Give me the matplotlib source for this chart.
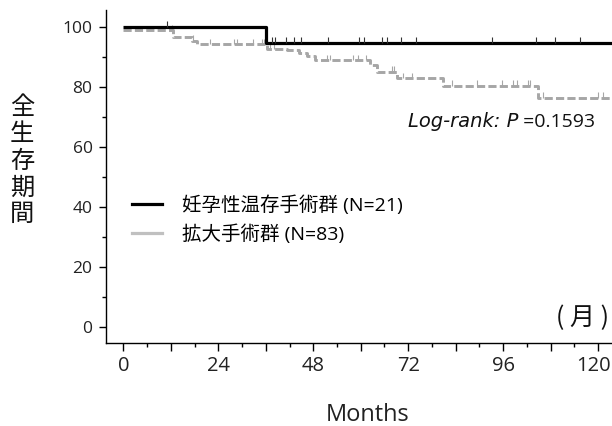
import numpy as np
import matplotlib
matplotlib.use("Agg")
import matplotlib.pyplot as plt
from matplotlib.lines import Line2D
from matplotlib.ticker import MultipleLocator, FuncFormatter

# ========================
# ДАННЫЕ
# ========================
# Кривая 1: 妊孕性温存手術群 (N=21)
t_fs = [0, 36.0]
s_fs = [100, 94.7]
cens_fs = [11.1, 37.5, 38.3, 41.0, 43.2, 44.9, 51.8, 59.6, 60.9, 65.3,
           66.7, 70.3, 73.9, 93.1, 104.3, 109.1, 115.4]

# Кривая 2: 拡大手術群 (N=83)
t_rad = [0, 12.6, 17.3, 18.7, 36.2, 41.3, 44.5, 46.3, 48.4, 62.3, 64.0,
         69.2, 80.7, 104.9]
s_rad = [98.8, 96.7, 95.3, 94.2, 92.5, 92.1, 91.1, 90.3, 88.9, 87.2, 85.0,
         82.8, 80.3, 76.3]
cens_rad = [12.2, 17.6, 21.9, 28.0, 28.7, 32.7, 35.0, 35.5, 37.0, 38.1,
            51.5, 52.2, 58.1, 59.4, 61.3, 67.8, 68.4, 70.6, 72.9, 83.0,
            89.3, 95.6, 98.5, 99.4, 102.3, 102.9, 106.1, 120.0, 121.3]

labels = ["妊孕性温存手術群 (N=21)", "拡大手術群 (N=83)"]
x_ticks = [0, 12, 24, 36, 48, 60, 72, 84, 96, 108, 120]
y_ticks = [0, 20, 40, 60, 80, 100]
t_end = 126

# ========================
# НАСТРОЙКИ
# ========================
FONTS = ['Open Sans', 'Noto Sans CJK JP', 'DejaVu Sans']
plt.rcParams['font.family'] = FONTS
W, H = 612, 426
X_TICK_SIZE = 14.5

fig = plt.figure(figsize=(W / 100, H / 100), dpi=100)
ax = fig.add_axes([105.7 / W, 1 - 343 / H, 1 - 105.7 / W, (343 - 10) / H])


def surv_at(times, surv, t):
    idx = np.searchsorted(np.array(times), np.array(t), side='right') - 1
    return np.array(surv)[idx]


# чёрная кривая
ax.step(t_fs + [t_end], s_fs + [s_fs[-1]], where='post', color='black',
        lw=2.3, solid_capstyle='butt', zorder=4)
y_c = surv_at(t_fs, s_fs, cens_fs)
ax.vlines(cens_fs, y_c, y_c + 2.0, color='#333333', lw=0.8, zorder=4)

# серая пунктирная кривая
ax.step(t_rad + [t_end], s_rad + [s_rad[-1]], where='post', color='#a6a6a6',
        lw=2.1, dashes=[2.8, 1.1], zorder=3)
y_c = surv_at(t_rad, s_rad, cens_rad)
ax.vlines(cens_rad, y_c, y_c + 1.8, color='#a6a6a6', lw=0.8, zorder=3)

# ========================
# ОСИ
# ========================
ax.set_xlim(-4.45, 123.5)
ax.set_ylim(-5.43, 105.57)
for s in ['top', 'right']:
    ax.spines[s].set_visible(False)
for s in ['left', 'bottom']:
    ax.spines[s].set_linewidth(1.0)

last_x = x_ticks[-1]
ax.set_xticks(x_ticks)
# подпись последнего деления рисуется отдельно (чуть левее, чтобы не обрезалась)
ax.xaxis.set_major_formatter(FuncFormatter(
    lambda v, p: f"{int(v)}" if int(v) % 24 == 0 and v != last_x else ""))
ax.xaxis.set_minor_locator(MultipleLocator(6))
ax.set_yticks(y_ticks)
ax.yaxis.set_minor_locator(MultipleLocator(10))

ax.tick_params(axis='x', which='major', length=5.5, width=1, labelsize=X_TICK_SIZE,
               pad=4, labelcolor='#222222')
ax.tick_params(axis='x', which='minor', length=3, width=1)
ax.tick_params(axis='y', which='major', length=5, width=1, labelsize=12.5,
               pad=4.5, labelcolor='#222222')
ax.tick_params(axis='y', which='minor', length=3, width=1)

ax.annotate(f"{last_x}", xy=(last_x, 0), xycoords=('data', 'axes fraction'),
            xytext=(-3.5, -9.5), textcoords='offset points', ha='center',
            va='top', fontsize=X_TICK_SIZE, color='#222222')

# ========================
# ТЕКСТЫ
# ========================
fig.text(368 / W, 1 - 415 / H, "Months", ha='center', va='center', fontsize=17,
         color='#222222')
fig.text(556 / W, 1 - 318 / H, "( 月 )", ha='left', va='center', fontsize=18,
         family=['Noto Sans CJK JP'], color='#111111')

for i, ch in enumerate("全生存期間"):
    fig.text(22 / W, 1 - (107.5 + 26.6 * i) / H, ch, ha='center', va='center',
             fontsize=17.5, family=['Noto Sans CJK JP'], color='#111111')

# Log-rank: P =0.1593
t2 = ax.text(119.2, 66.7, " =0.1593", ha='right', va='baseline', fontsize=14,
             color='#111111')
fig.canvas.draw()
bb = t2.get_window_extent()
x_left = ax.transData.inverted().transform((bb.x0, bb.y0))[0]
ax.text(x_left, 66.7, "Log-rank: P", ha='right', va='baseline', fontsize=14,
        style='italic', family=['DejaVu Sans'], color='#111111')

# легенда
handles = [Line2D([], [], color='black', lw=2.3),
           Line2D([], [], color='#c0c0c0', lw=2.3)]
leg = fig.legend(handles, labels, loc='upper left',
                 bbox_to_anchor=(132 / W, 1 - 195 / H), frameon=False,
                 handlelength=1.55, handletextpad=1.0,
                 labelspacing=0.52, borderpad=0, borderaxespad=0,
                 prop={'family': ['Open Sans', 'Noto Sans CJK JP'], 'size': 14})

fig.savefig("out.png", dpi=100)
